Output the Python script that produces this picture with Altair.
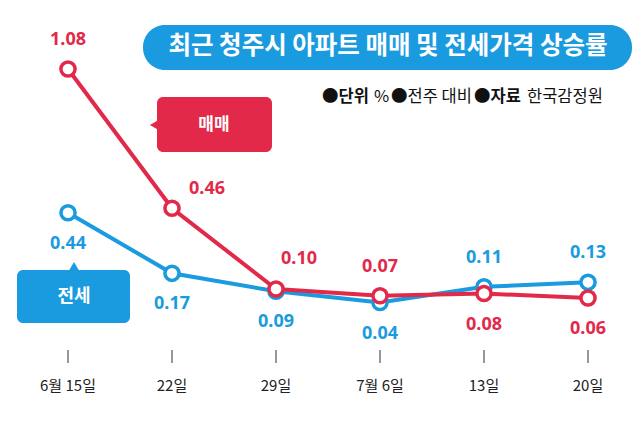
import altair as alt
import pandas as pd

dates = ["6월 15일", "22일", "29일", "7월 6일", "13일", "20일"]
sale = [1.08, 0.46, 0.10, 0.07, 0.08, 0.06]
jeonse = [0.44, 0.17, 0.09, 0.04, 0.11, 0.13]
sale_label_pos = ["above", "right", "upright", "above", "below", "below"]
jeonse_label_pos = ["below", "below", "below", "below", "above", "above"]

RED = "#e2294a"
BLUE = "#1a9be0"
KFONT = "Noto Sans CJK KR"
NFONT = "Noto Sans"

W, H = 640, 434
rows = []
for i, d in enumerate(dates):
    rows.append({"i": i, "date": d, "series": "전세", "v": jeonse[i], "lbl": f"{jeonse[i]:.2f}", "pos": jeonse_label_pos[i]})
for i, d in enumerate(dates):
    rows.append({"i": i, "date": d, "series": "매매", "v": sale[i], "lbl": f"{sale[i]:.2f}", "pos": sale_label_pos[i]})
df = pd.DataFrame(rows)
cats = pd.DataFrame({"i": list(range(len(dates))), "date": dates})

xs = alt.Scale(domain=[-68 / 104, (W - 68) / 104], nice=False, zero=False)
ys = alt.Scale(domain=[(311.5 - H) / 224.5, 311.5 / 224.5], nice=False, zero=False)
X = alt.X("i:Q", scale=xs, axis=None)
Y = alt.Y("v:Q", scale=ys, axis=None)

one = alt.Chart(pd.DataFrame({"a": [0]}))

layers = []
# title pill
layers.append(one.mark_rect(color=BLUE, cornerRadius=22).encode(
    x=alt.value(143), x2=alt.value(632), y=alt.value(25), y2=alt.value(70)))
layers.append(one.mark_text(text="최근 청주시 아파트 매매 및 전세가격 상승률", font=KFONT, fontSize=24.5,
                            fontWeight="bold", color="white", align="center", baseline="middle").encode(
    x=alt.value(388), y=alt.value(47)))
# subtitle segments
for txt, xpos, wgt in [("●단위", 322, "bold"), ("%", 374, "normal"), ("●전주 대비", 391, "normal"),
                       ("●자료", 474, "bold"), ("한국감정원", 527, "normal")]:
    layers.append(one.mark_text(text=txt, font=KFONT, fontSize=16.5, fontWeight=wgt,
                                color="#111", align="left", baseline="middle").encode(
        x=alt.value(xpos), y=alt.value(97)))

# callouts
layers.append(one.mark_rect(color=RED, cornerRadius=6).encode(
    x=alt.value(157), x2=alt.value(272), y=alt.value(97), y2=alt.value(152)))
layers.append(one.mark_point(shape="triangle-left", filled=True, color=RED, size=90, opacity=1).encode(
    x=alt.value(154), y=alt.value(125)))
layers.append(one.mark_text(text="매매", font=KFONT, fontSize=17, fontWeight="bold", color="white",
                            align="center", baseline="middle").encode(x=alt.value(214), y=alt.value(125)))
layers.append(one.mark_rect(color=BLUE, cornerRadius=6).encode(
    x=alt.value(17), x2=alt.value(130), y=alt.value(270), y2=alt.value(323)))
layers.append(one.mark_point(shape="triangle-up", filled=True, color=BLUE, size=90, opacity=1).encode(
    x=alt.value(74), y=alt.value(266)))
layers.append(one.mark_text(text="전세", font=KFONT, fontSize=18, fontWeight="bold", color="white",
                            align="center", baseline="middle").encode(x=alt.value(74), y=alt.value(297)))

# ticks and x labels
base_c = alt.Chart(cats)
layers.append(base_c.mark_rule(color="#333", strokeWidth=1).encode(x=X, y=alt.value(350), y2=alt.value(363)))
layers.append(base_c.mark_text(font=KFONT, fontSize=15, color="#222", baseline="middle").encode(
    x=X, y=alt.value(386), text="date:N"))

for s, col in [("전세", BLUE), ("매매", RED)]:
    b = alt.Chart(df).transform_filter(alt.datum.series == s)
    layers.append(b.mark_line(color=col, strokeWidth=4).encode(x=X, y=Y, order="i:Q"))
    layers.append(b.mark_point(shape="circle", filled=True, fill="white", stroke=col, strokeWidth=3.5,
                               size=200, opacity=1).encode(x=X, y=Y))
    for pos, kw in [("above", dict(dy=-29)), ("below", dict(dy=31)), ("upright", dict(dx=23, dy=-30)),
                    ("right", dict(dx=35, dy=-19))]:
        layers.append(b.transform_filter(alt.datum.pos == pos).mark_text(
            font=NFONT, fontSize=18, fontWeight="bold", color=col, baseline="middle", **kw).encode(
            x=X, y=Y, text="lbl:N"))

chart = alt.layer(*layers).properties(
    width=W, height=H, padding=0, autosize=alt.AutoSizeParams(type="none"), background="white"
).configure_view(stroke=None)

chart.save("out.html", embed_options={"renderer": "svg", "actions": False})
